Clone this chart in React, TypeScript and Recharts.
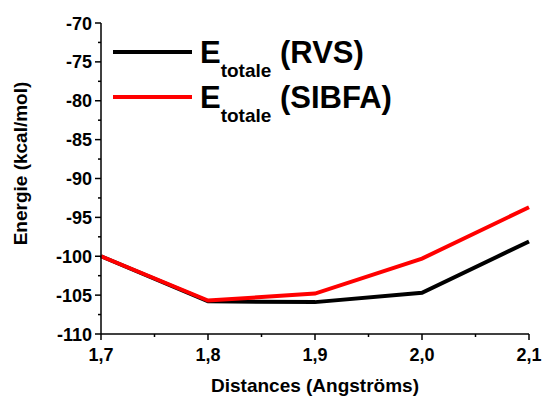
import React from 'react';
import { LineChart, Line, XAxis, YAxis, Legend } from 'recharts';

const distances = [1.7, 1.8, 1.9, 2.0, 2.1];
const rvs = [-100, -105.8, -105.9, -104.7, -98.1];
const sibfa = [-100, -105.7, -104.8, -100.3, -93.7];

const xTicks = [1.7, 1.75, 1.8, 1.85, 1.9, 1.95, 2.0, 2.05, 2.1];
const yTicks = [-110, -107.5, -105, -102.5, -100, -97.5, -95, -92.5, -90, -87.5, -85, -82.5, -80, -77.5, -75, -72.5, -70];

const data = distances.map((d, i) => ({ d, rvs: rvs[i], sibfa: sibfa[i] }));

const FONT = '"Liberation Sans", Arial, sans-serif';

const isMajor = (v: number, step: number) => Math.abs(v / step - Math.round(v / step)) < 1e-6;

const XTick = (props: any) => {
  const { x, y, payload } = props;
  const v = payload.value as number;
  const major = isMajor(v, 0.1);
  return (
    <g>
      <line x1={x} y1={y} x2={x} y2={y + (major ? 6 : 3)} stroke="#000" strokeWidth={1.5} />
      {major && (
        <text x={x} y={y + 27} textAnchor="middle" fontFamily={FONT} fontWeight="bold" fontSize={18} fill="#000">
          {v.toFixed(1).replace('.', ',')}
        </text>
      )}
    </g>
  );
};

const YTick = (props: any) => {
  const { x, y, payload } = props;
  const v = payload.value as number;
  const major = isMajor(v, 5);
  return (
    <g>
      <line x1={x - (major ? 6 : 3)} y1={y} x2={x} y2={y} stroke="#000" strokeWidth={1.5} />
      {major && (
        <text x={x - 9} y={y + 6.5} textAnchor="end" fontFamily={FONT} fontWeight="bold" fontSize={18} fill="#000">
          {v}
        </text>
      )}
    </g>
  );
};

const LegendBox = (props: any) => {
  const items = props.payload || [];
  return (
    <svg width={300} height={100}>
      {items.map((it: any, i: number) => {
        const ly = 22 + i * 45;
        return (
          <g key={i}>
            <line x1={5} y1={ly} x2={84} y2={ly} stroke={it.color} strokeWidth={4} />
            <text x={92} y={ly + 11} fontFamily={FONT} fontWeight="bold" fill="#000">
              <tspan fontSize={31}>E</tspan>
              <tspan fontSize={19} dy={14}>totale</tspan>
              <tspan fontSize={31} dy={-14}>{' (' + it.value + ')'}</tspan>
            </text>
          </g>
        );
      })}
    </svg>
  );
};

export default function App() {
  return (
    <div style={{ position: 'absolute', left: 0, top: 0, background: '#fff' }}>
      <LineChart width={544} height={396} data={data} margin={{ top: 23, right: 15, left: 0, bottom: 0 }}>
        <XAxis
          dataKey="d"
          type="number"
          domain={[1.7, 2.1]}
          ticks={xTicks}
          interval={0}
          height={62}
          tickSize={0}
          tickMargin={0}
          tickLine={false}
          tick={<XTick />}
          axisLine={{ stroke: '#000', strokeWidth: 1.5 }}
          label={{
            content: (p: any) => {
              const vb = p.viewBox;
              return (
                <text x={vb.x + vb.width / 2} y={392} textAnchor="middle" fontFamily={FONT} fontWeight="bold" fontSize={19} fill="#000">
                  Distances (Angströms)
                </text>
              );
            },
          }}
        />
        <XAxis
          xAxisId="top"
          orientation="top"
          dataKey="d"
          type="number"
          domain={[1.7, 2.1]}
          height={0}
          tick={false}
          tickLine={false}
          axisLine={{ stroke: '#333', strokeWidth: 1.5 }}
        />
        <YAxis
          type="number"
          domain={[-110, -70]}
          ticks={yTicks}
          interval={0}
          width={101}
          tickSize={0}
          tickMargin={0}
          tickLine={false}
          tick={<YTick />}
          axisLine={{ stroke: '#000', strokeWidth: 1.5 }}
          label={{
            content: (p: any) => {
              const vb = p.viewBox;
              const cy = vb.y + vb.height / 2 - 15;
              return (
                <text x={27} y={cy} transform={`rotate(-90 27 ${cy})`} textAnchor="middle" fontFamily={FONT} fontWeight="bold" fontSize={19} fill="#000">
                  Energie (kcal/mol)
                </text>
              );
            },
          }}
        />
        <YAxis
          yAxisId="right"
          orientation="right"
          type="number"
          domain={[-110, -70]}
          width={0}
          tick={false}
          tickLine={false}
          axisLine={{ stroke: '#333', strokeWidth: 1.5 }}
        />
        <Legend
          layout="horizontal"
          verticalAlign="middle"
          align="center"
          content={<LegendBox />}
          wrapperStyle={{ position: 'absolute', left: 108, top: 30, width: 300, height: 100 }}
        />
        <Line dataKey="rvs" name="RVS" stroke="#000000" strokeWidth={4} dot={false} isAnimationActive={false} />
        <Line dataKey="sibfa" name="SIBFA" stroke="#ff0000" strokeWidth={4} dot={false} isAnimationActive={false} />
      </LineChart>
    </div>
  );
}
